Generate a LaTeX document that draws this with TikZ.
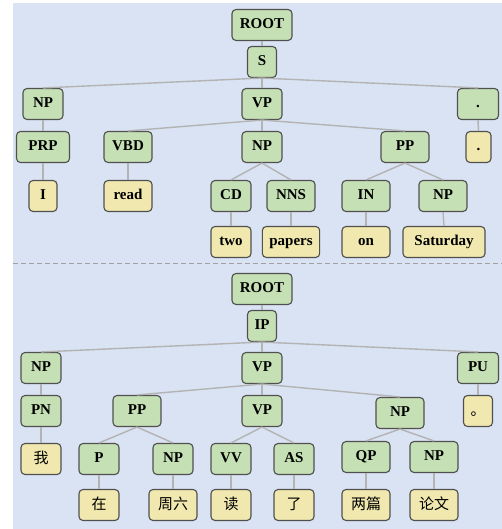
\documentclass[tikz,border=0pt]{standalone}
\usepackage{fontspec}
\setmainfont{Liberation Serif}
\newfontfamily\cjk{Noto Sans CJK SC}
\usepackage{tikz}
\usetikzlibrary{positioning}
\definecolor{bgblue}{HTML}{DAE3F3}
\definecolor{taggreen}{HTML}{C5E0B4}
\definecolor{wordyellow}{HTML}{F0E8AE}
\definecolor{boxline}{HTML}{505050}
\definecolor{edgegray}{HTML}{B3B3B3}
\tikzset{
  tag/.style={draw=boxline, line width=1.1pt, rounded corners=4pt, fill=taggreen,
    font=\bfseries\fontsize{15}{18}\selectfont, minimum width=40pt,
    minimum height=31pt, inner xsep=7pt, inner ysep=0pt,
    text height=10.5pt, text depth=3pt},
  word/.style={tag, fill=wordyellow},
  hanzi/.style={word, font=\cjk\mdseries\fontsize{15}{18}\selectfont, text height=11.5pt, text depth=2pt},
  narrow/.style={minimum width=29pt},
  wide/.style={minimum width=48pt},
  branch/.style={draw=edgegray, line width=1.4pt}
}

\begin{document}
\begin{tikzpicture}[x=1pt, y=-1pt]
\useasboundingbox (0,0) rectangle (502,529);
\fill[bgblue] (13,3) rectangle (502,529);
\draw[draw=edgegray!90!black, line width=1pt, dash pattern=on 5pt off 3pt] (13,263) -- (502,263);

% English tree
\node (root1) [tag, minimum width=60pt] at (262,25) {ROOT};
\node (s1) [tag, narrow] at (262,62) {S};
\node (np1) [tag] at (43,104) {NP};
\node (vp1) [tag] at (262,104) {VP};
\node (dot1) [tag, minimum width=41pt] at (478,104) {.};
\node (prp) [tag, minimum width=53pt] at (43,147) {PRP};
\node (vbd) [tag, wide] at (128,147) {VBD};
\node (np2) [tag] at (262,147) {NP};
\node (pp1) [tag, wide] at (405,147) {PP};
\node (dotw) [word, minimum width=25pt] at (478.5,147) {.};
\node (cd) [tag] at (231,196) {CD};
\node (nns) [tag, wide] at (291,196) {NNS};
\node (in) [tag, wide] at (366,196) {IN};
\node (np3) [tag, wide] at (443,196) {NP};
\node (wI) [word, minimum width=28pt] at (43,196) {I};
\node (wread) [word, wide] at (128,196) {read};
\node (wtwo) [word] at (231,242) {two};
\node (wpapers) [word, minimum width=57pt] at (291,242) {papers};
\node (won) [word, wide] at (366,242) {on};
\node (wsat) [word, minimum width=82pt] at (444,242) {Saturday};

\path[branch] (root1.south) edge (s1.north);
\path[branch] (s1.south) edge (np1.north) edge (vp1.north) edge (dot1.north);
\path[branch] (np1.south) edge (prp.north);
\path[branch] (prp.south) edge (wI.north);
\path[branch] (vp1.south) edge (vbd.north) edge (np2.north) edge (pp1.north);
\path[branch] (vbd.south) edge (wread.north);
\path[branch] (np2.south) edge (cd.north) edge (nns.north);
\path[branch] (cd.south) edge (wtwo.north);
\path[branch] (nns.south) edge (wpapers.north);
\path[branch] (pp1.south) edge (in.north) edge (np3.north);
\path[branch] (in.south) edge (won.north);
\path[branch] (np3.south) edge (wsat.north);
\path[branch] (dot1.south) edge (dotw.north);

% Chinese tree
\node (root2) [tag, minimum width=60pt] at (262,289) {ROOT};
\node (ip) [tag, narrow] at (262,326) {IP};
\node (np4) [tag] at (41,368) {NP};
\node (vp2) [tag] at (262,368) {VP};
\node (pu) [tag, minimum width=41pt] at (478,368) {PU};
\node (pn) [tag] at (41,411) {PN};
\node (pp2) [tag, wide] at (137,411) {PP};
\node (vp3) [tag] at (262,411) {VP};
\node (np5) [tag, wide] at (400,413) {NP};
\node (wju) [hanzi, minimum width=25pt] at (478,411) {。};
\node (wwo) [hanzi] at (41,459) {我};
\node (p) [tag] at (99,459) {P};
\node (np6) [tag] at (173,459) {NP};
\node (vv) [tag] at (231,459) {VV};
\node (as) [tag] at (294,459) {AS};
\node (qp) [tag, wide] at (366,457) {QP};
\node (np7) [tag, wide] at (434,457) {NP};
\node (wzai) [hanzi] at (99,505) {在};
\node (wzhouliu) [hanzi, wide] at (173,505) {周六};
\node (wdu) [hanzi] at (231,505) {读};
\node (wle) [hanzi] at (294,505) {了};
\node (wliangpian) [hanzi, wide] at (366,505) {两篇};
\node (wlunwen) [hanzi, wide] at (434,505) {论文};

\path[branch] (root2.south) edge (ip.north);
\path[branch] (ip.south) edge (np4.north) edge (vp2.north) edge (pu.north);
\path[branch] (np4.south) edge (pn.north);
\path[branch] (pn.south) edge (wwo.north);
\path[branch] (vp2.south) edge (pp2.north) edge (vp3.north) edge (np5.north);
\path[branch] (pp2.south) edge (p.north) edge (np6.north);
\path[branch] (p.south) edge (wzai.north);
\path[branch] (np6.south) edge (wzhouliu.north);
\path[branch] (vp3.south) edge (vv.north) edge (as.north);
\path[branch] (vv.south) edge (wdu.north);
\path[branch] (as.south) edge (wle.north);
\path[branch] (np5.south) edge (qp.north) edge (np7.north);
\path[branch] (qp.south) edge (wliangpian.north);
\path[branch] (np7.south) edge (wlunwen.north);
\path[branch] (pu.south) edge (wju.north);
\end{tikzpicture}
\end{document}
